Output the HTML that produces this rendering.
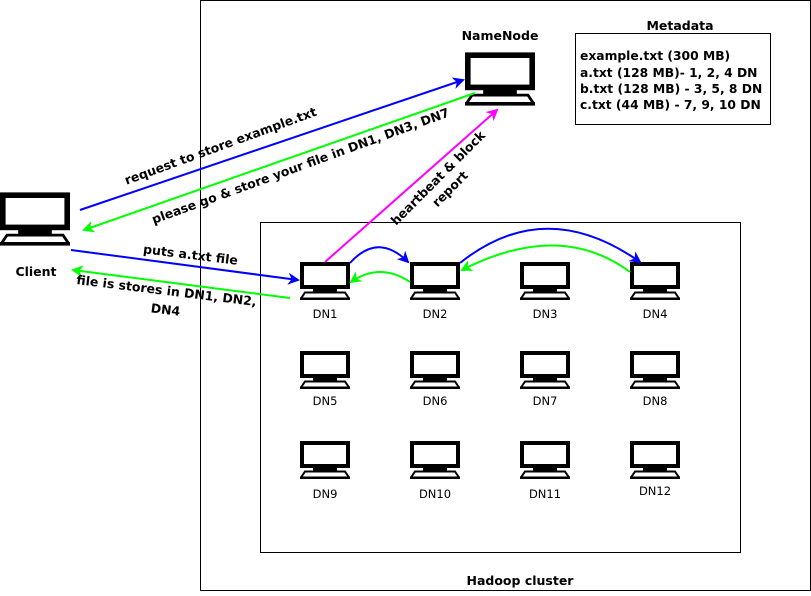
<!DOCTYPE html>
<html><head><style>
body{margin:0;background:#fff;width:811px;height:591px;overflow:hidden}
svg text{font-family:"DejaVu Sans","Liberation Sans",sans-serif}
</style></head><body>
<svg width="811" height="591" viewBox="0 0 811 591" xmlns="http://www.w3.org/2000/svg">
<defs>
<symbol id="pc" viewBox="0 0 50 38">
<rect x="2" y="2" width="46" height="23" fill="#fff" stroke="#000" stroke-width="4"/>
<rect x="13" y="26" width="24" height="4" fill="#000"/>
<polygon points="5,30.5 45,30.5 49,36.5 1,36.5" fill="#fff" stroke="#000" stroke-width="2"/>
<rect x="0" y="35.5" width="50" height="2.5" fill="#000"/>
</symbol>
<marker id="ab" markerWidth="12" markerHeight="12" refX="10" refY="6" orient="auto" markerUnits="userSpaceOnUse"><path d="M0,0 L12,6 L0,12 L3.5,6z" fill="#0000ff"/></marker>
<marker id="ag" markerWidth="12" markerHeight="12" refX="10" refY="6" orient="auto" markerUnits="userSpaceOnUse"><path d="M0,0 L12,6 L0,12 L3.5,6z" fill="#00ff00"/></marker>
<marker id="am" markerWidth="12" markerHeight="12" refX="10" refY="6" orient="auto" markerUnits="userSpaceOnUse"><path d="M0,0 L12,6 L0,12 L3.5,6z" fill="#ff00ff"/></marker>
</defs>
<rect x="200.5" y="0.5" width="610" height="590" fill="none" stroke="#000"/>
<rect x="260.5" y="222.5" width="480" height="330" fill="none" stroke="#000"/>
<rect x="575.5" y="33.5" width="195" height="91" fill="none" stroke="#000"/>
<text x="680" y="30" font-size="12.5" font-weight="bold" text-anchor="middle">Metadata</text>
<g font-size="12.3" font-weight="bold">
<text x="580" y="60">example.txt (300 MB)</text>
<text x="580" y="77">a.txt (128 MB)- 1, 2, 4 DN</text>
<text x="580" y="93">b.txt (128 MB) - 3, 5, 8 DN</text>
<text x="580" y="109">c.txt (44 MB) - 7, 9, 10 DN</text>
</g>
<text x="500" y="40" font-size="12.5" font-weight="bold" text-anchor="middle">NameNode</text>
<text x="520" y="585" font-size="12.5" font-weight="bold" text-anchor="middle">Hadoop cluster</text>
<use href="#pc" x="465" y="50" width="70" height="58"/>
<use href="#pc" x="0" y="190" width="70" height="58"/>
<text x="36" y="276" font-size="12.5" font-weight="bold" text-anchor="middle">Client</text>
<g font-size="11.5" text-anchor="middle">
<use href="#pc" x="300" y="262" width="50" height="38"/><text x="325" y="318">DN1</text>
<use href="#pc" x="410" y="262" width="50" height="38"/><text x="435" y="318">DN2</text>
<use href="#pc" x="520" y="262" width="50" height="38"/><text x="545" y="318">DN3</text>
<use href="#pc" x="630" y="262" width="50" height="38"/><text x="655" y="318">DN4</text>
<use href="#pc" x="300" y="351" width="50" height="38"/><text x="325" y="405">DN5</text>
<use href="#pc" x="410" y="351" width="50" height="38"/><text x="435" y="405">DN6</text>
<use href="#pc" x="520" y="351" width="50" height="38"/><text x="545" y="405">DN7</text>
<use href="#pc" x="630" y="351" width="50" height="38"/><text x="655" y="405">DN8</text>
<use href="#pc" x="300" y="441" width="50" height="38"/><text x="325" y="498">DN9</text>
<use href="#pc" x="410" y="441" width="50" height="38"/><text x="435" y="498">DN10</text>
<use href="#pc" x="520" y="441" width="50" height="38"/><text x="545" y="498">DN11</text>
<use href="#pc" x="630" y="441" width="50" height="38"/><text x="655" y="495">DN12</text>
</g>
<g fill="none" stroke-width="2">
<line x1="80" y1="210" x2="463" y2="80" stroke="#0000ff" marker-end="url(#ab)"/>
<line x1="475" y1="93" x2="84" y2="230" stroke="#00ff00" marker-end="url(#ag)"/>
<line x1="325" y1="262" x2="497" y2="110" stroke="#ff00ff" marker-end="url(#am)"/>
<line x1="71" y1="250" x2="298" y2="280" stroke="#0000ff" marker-end="url(#ab)"/>
<line x1="290" y1="298" x2="73" y2="270" stroke="#00ff00" marker-end="url(#ag)"/>
<path d="M350,263 Q378,232 408,262" stroke="#0000ff" marker-end="url(#ab)"/>
<path d="M410,282 Q380,262 351,282" stroke="#00ff00" marker-end="url(#ag)"/>
<path d="M460,263 Q545,195 640,262" stroke="#0000ff" marker-end="url(#ab)"/>
<path d="M630,272 Q560,220 462,270" stroke="#00ff00" marker-end="url(#ag)"/>
</g>
<g font-size="12.5" font-weight="bold" text-anchor="middle">
<text transform="translate(222,150) rotate(-20)">request to store example.txt</text>
<text transform="translate(302,170) rotate(-20)">please go &amp; store your file in DN1, DN3, DN7</text>
<text transform="translate(190,259) rotate(7)">puts a.txt file</text>
<text transform="translate(166,295) rotate(7)">file is stores in DN1, DN2,</text>
<text transform="translate(165,314) rotate(7)">DN4</text>
<text transform="translate(441,181) rotate(-45)">heartbeat &amp; block</text>
<text transform="translate(453,192) rotate(-45)">report</text>
</g>
</svg>
</body></html>
